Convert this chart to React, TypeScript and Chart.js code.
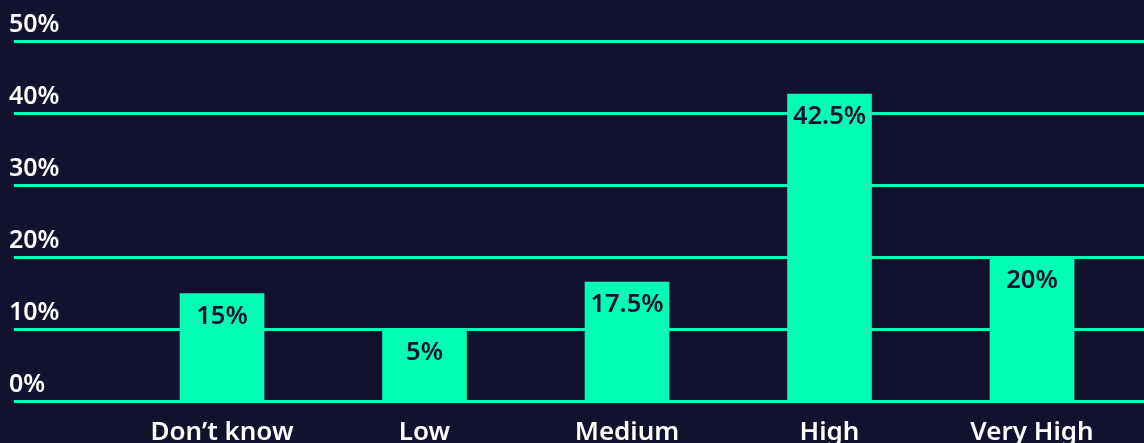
import React, { useEffect, useRef } from "react";
import { Chart, registerables } from "chart.js";

Chart.register(...registerables);

const categories = ["Don\u2019t know", "Low", "Medium", "High", "Very High"];
const values = [15, 10, 16.6, 42.7, 20];
const valueLabels = ["15%", "5%", "17.5%", "42.5%", "20%"];
const yTickValues = [0, 10, 20, 30, 40, 50];

const BG = "#12112e";
const GREEN = "#00ffb4";
const FONT = "'Noto Sans', 'Open Sans', sans-serif";

const valueLabelPlugin = {
  id: "valueLabels",
  afterDatasetsDraw(chart: any) {
    const ctx = chart.ctx;
    const meta = chart.getDatasetMeta(0);
    ctx.save();
    ctx.fillStyle = BG;
    ctx.font = `600 25.5px ${FONT}`;
    ctx.textAlign = "center";
    ctx.textBaseline = "middle";
    meta.data.forEach((bar: any, i: number) => {
      ctx.fillText(valueLabels[i], bar.x, bar.y + 23);
    });
    ctx.restore();
  },
};

export default function App() {
  const ref = useRef<HTMLCanvasElement | null>(null);
  useEffect(() => {
    document.body.style.margin = "0";
    document.body.style.background = BG;
    const chart = new Chart(ref.current as HTMLCanvasElement, {
      type: "bar",
      data: {
        labels: categories,
        datasets: [
          {
            data: values,
            backgroundColor: GREEN,
            borderWidth: 0,
            barThickness: 84,
          },
        ],
      },
      plugins: [valueLabelPlugin],
      options: {
        animation: false,
        responsive: true,
        maintainAspectRatio: false,
        layout: { padding: { left: 9, right: 0, top: 41.5, bottom: 0 } },
        plugins: { legend: { display: false }, tooltip: { enabled: false } },
        scales: {
          x: {
            offset: true,
            grid: { display: false },
            border: { display: false },
            ticks: {
              color: "#ffffff",
              font: { family: FONT, size: 26, weight: "600" },
              padding: 7,
              maxRotation: 0,
              autoSkip: false,
            },
            afterFit: (s: any) => {
              s.height = 41.5;
            },
          },
          y: {
            position: "left",
            min: 0,
            max: 50,
            afterBuildTicks: (s: any) => {
              s.ticks = yTickValues.map((v) => ({ value: v }));
            },
            grid: {
              color: GREEN,
              lineWidth: 3,
              drawTicks: true,
              tickLength: 106.75,
            },
            border: { display: false },
            ticks: {
              color: "#ffffff",
              font: { family: FONT, size: 25, weight: "600" },
              crossAlign: "far",
              labelOffset: -17,
              callback: (v: any) => `${v}%`,
            },
            afterFit: (s: any) => {
              s.width = 111.75;
            },
          },
          y2: {
            position: "right",
            min: 0,
            max: 50,
            afterBuildTicks: (s: any) => {
              s.ticks = yTickValues.map((v) => ({ value: v }));
            },
            grid: {
              color: GREEN,
              lineWidth: 3,
              drawOnChartArea: false,
              drawTicks: true,
              tickLength: 11,
            },
            border: { display: false },
            ticks: { display: false },
            afterFit: (s: any) => {
              s.width = 10.75;
            },
          },
        },
      } as any,
    });
    return () => chart.destroy();
  }, []);
  return (
    <div style={{ position: "fixed", left: 0, top: 0, width: 1144, height: 443, background: BG }}>
      <canvas ref={ref} />
    </div>
  );
}
